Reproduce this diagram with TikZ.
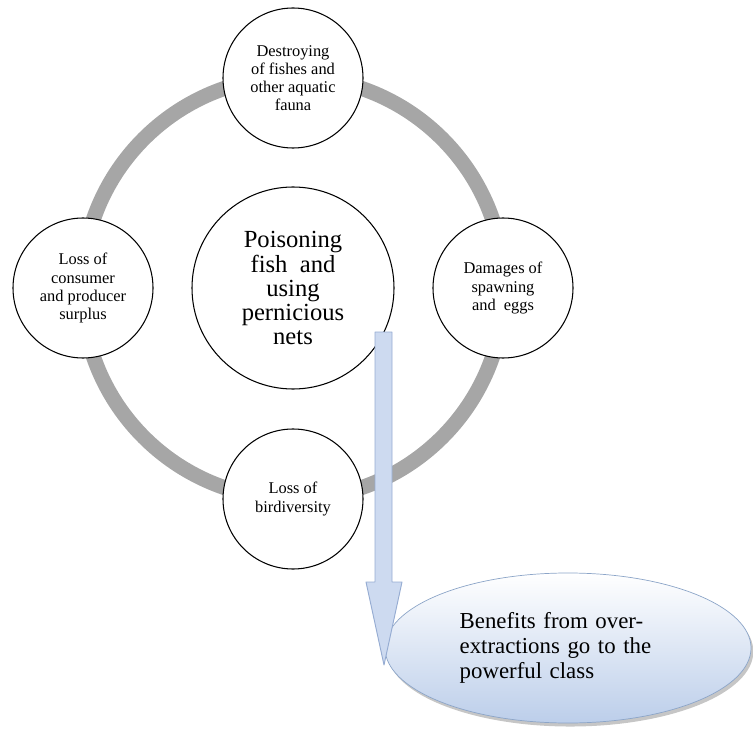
\documentclass[tikz,border=0pt]{standalone}
\usepackage{fontspec}
\setmainfont{Liberation Serif}
\usetikzlibrary{shapes.geometric,shadows}

\definecolor{ringgray}{RGB}{166,166,166}
\definecolor{arrfill}{RGB}{205,218,240}
\definecolor{arrline}{RGB}{150,172,210}
\definecolor{ellblue}{RGB}{188,206,234}
\definecolor{ellline}{RGB}{140,165,200}

\begin{document}
\begin{tikzpicture}[x=0.03cm, y=-0.03cm]
		\tikzset{sm/.style={circle, draw=black, line width=0.9pt, fill=white, minimum size=4.2cm, inner sep=0pt, align=center, font=\fontsize{14}{15.4}\selectfont}};
		\tikzset{big/.style={circle, draw=black, line width=0.9pt, fill=white, minimum size=6.06cm, inner sep=0pt, align=center, font=\fontsize{21}{20.5}\selectfont}};
		\tikzset{ell/.style={ellipse, draw=ellline, line width=0.6pt, top color=white, bottom color=ellblue, minimum width=10.98cm, minimum height=4.5cm, inner sep=0pt, text width=6.5cm, align=left, font=\fontsize{19.5}{21.5}\selectfont, drop shadow={shadow xshift=2pt, shadow yshift=-3pt, opacity=0.45}}};
		\tikzset{arr/.style={draw=arrline, line width=0.8pt, fill=arrfill, line join=round}};

		\useasboundingbox (0,0) rectangle (753,736);

		\coordinate (o) at (293,288);
		\draw[ringgray, line width=12.8pt] (o) circle (6.33cm);

		\node[big] (pois) at (o) {Poisoning\\fish~ and\\using\\pernicious\\nets};
		\node[sm] (dest) at (293,78) {Destroying\\of fishes and\\other aquatic\\fauna};
		\node[sm] (cons) at (83,288) {Loss of\\consumer\\and producer\\surplus};
		\node[sm] (dama) at (503,288) {Damages of\\spawning\\and~ eggs};
		\node[sm] (bird) at (293,499) {Loss of\\birdiversity};

		\node[ell] (bene) at (568,648) {Benefits from over-\\extractions go to the\\powerful class};

		% arrow from the centre circle down to the benefits
		\coordinate (atop) at (383.5,332);
		\coordinate (atip) at (384,665);
		\draw[arr] (atop) ++(-8.5,0) -- ++(17,0) -- ++(0,250) -- ++(10,0) -- (atip) -- ++(-18,-83) -- ++(9,0) -- cycle;

	\end{tikzpicture}
\end{document}
